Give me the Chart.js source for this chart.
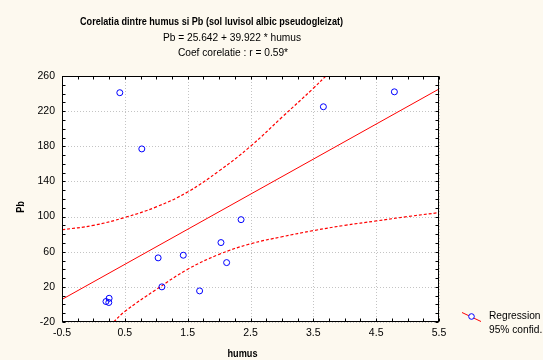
<!DOCTYPE html>
<html>
<head>
<meta charset="utf-8">
<script src="https://cdn.jsdelivr.net/npm/chart.js@4/dist/chart.umd.min.js"></script>
<style>
html,body{margin:0;padding:0;background:#fdf9ef;}
#c{display:block;}
</style>
</head>
<body>
<canvas id="c" width="543" height="360"></canvas>
<script>
// ---- data ----
const humus = [0.42, 0.77, 3.66, 4.79, 0.20, 0.25, 0.245, 1.03, 1.09, 1.43, 1.69, 2.03, 2.12, 2.35];
const pb    = [241, 177, 225, 242, 3.3, 7, 2.2, 53, 20, 56, 15.4, 70.4, 47.6, 96.5];

const regX = [-0.5, 5.5];
const regY = [5.7, 245.2];

const upperX = [-0.5, 0, 0.5, 1, 1.5, 2, 2.5, 3, 3.5, 3.7];
const upperY = [85, 90, 99, 111, 128, 152, 180, 213, 246, 260];

const lowerX = [0.32, 0.5, 1, 1.5, 2, 2.5, 3, 3.5, 4, 4.5, 5, 5.5];
const lowerY = [-20, -8, 17, 40, 57, 69, 77, 84, 90, 95, 100, 104.5];

const xTicks = [-0.5, 0.5, 1.5, 2.5, 3.5, 4.5, 5.5];
const yTicks = [-20, 20, 60, 100, 140, 180, 220, 260];

const titleText = "Corelatia dintre humus si Pb (sol luvisol albic pseudogleizat)";
const subLines = ["Pb = 25.642 + 39.922 * humus", "Coef corelatie : r = 0.59*"];
const xTitle = "humus";
const yTitle = "Pb";
const legendLabels = ["Regression", "95% confid."];

// ---- drawing ----
const FONT = "'Liberation Sans', Arial, sans-serif";
const pts = (xs, ys) => xs.map((x, i) => ({x: x, y: ys[i]}));

function condensedText(ctx, text, cx, cy, sx) {
  ctx.save();
  ctx.translate(cx, cy);
  ctx.scale(sx, 1);
  ctx.fillText(text, 0, 0);
  ctx.restore();
}

const deco = {
  id: 'deco',
  beforeDraw(chart) {
    const ctx = chart.ctx, a = chart.chartArea;
    ctx.save();
    ctx.fillStyle = '#fdf9ef';
    ctx.fillRect(0, 0, chart.width, chart.height);
    ctx.fillStyle = '#ffffff';
    ctx.fillRect(a.left, a.top, a.right - a.left, a.bottom - a.top);
    ctx.restore();
  },
  beforeDatasetsDraw(chart) {
    const ctx = chart.ctx, a = chart.chartArea;
    const xs = chart.scales.x, ys = chart.scales.y;
    ctx.save();
    ctx.strokeStyle = '#c4c4c4';
    ctx.lineWidth = 1;
    ctx.setLineDash([1, 2]);
    xTicks.forEach(v => {
      const px = Math.round(xs.getPixelForValue(v)) + 0.5;
      ctx.beginPath(); ctx.moveTo(px, a.top); ctx.lineTo(px, a.bottom); ctx.stroke();
    });
    yTicks.forEach(v => {
      const py = Math.round(ys.getPixelForValue(v)) + 0.5;
      ctx.beginPath(); ctx.moveTo(a.left, py); ctx.lineTo(a.right, py); ctx.stroke();
    });
    ctx.restore();
  },
  afterDraw(chart) {
    const ctx = chart.ctx, a = chart.chartArea;
    const xs = chart.scales.x, ys = chart.scales.y;
    ctx.save();
    // frame
    ctx.strokeStyle = '#000';
    ctx.lineWidth = 1;
    ctx.setLineDash([]);
    const L = Math.round(a.left) + 0.5, R = Math.round(a.right) - 0.5;
    const T = Math.round(a.top) + 0.5, B = Math.round(a.bottom) - 0.5;
    ctx.strokeRect(L, T, R - L, B - T);
    // inward minor ticks
    const tl = 3;
    ctx.beginPath();
    for (let v = -0.5; v <= 5.5001; v += 0.25) {
      const px = Math.round(xs.getPixelForValue(v)) + 0.5;
      ctx.moveTo(px, B); ctx.lineTo(px, B - tl);
      ctx.moveTo(px, T); ctx.lineTo(px, T + tl);
    }
    for (let v = -20; v <= 260.001; v += 10) {
      const py = Math.round(ys.getPixelForValue(v)) + 0.5;
      ctx.moveTo(L, py); ctx.lineTo(L + tl, py);
      ctx.moveTo(R, py); ctx.lineTo(R - tl, py);
    }
    ctx.stroke();

    // titles
    ctx.fillStyle = '#000';
    ctx.textAlign = 'center';
    ctx.textBaseline = 'middle';
    ctx.font = 'bold 10.5px ' + FONT;
    const tw = ctx.measureText(titleText).width;
    condensedText(ctx, titleText, 211.5, 22, 263 / tw);
    ctx.font = '10.2px ' + FONT;
    ctx.fillText(subLines[0], 232, 38.5);
    ctx.fillText(subLines[1], 233, 53);

    // axis titles
    ctx.font = 'bold 10.5px ' + FONT;
    condensedText(ctx, xTitle, 242.5, 354, 0.87);
    ctx.save();
    ctx.translate(21.5, 207);
    ctx.rotate(-Math.PI / 2);
    ctx.scale(0.87, 1);
    ctx.fillText(yTitle, 0, 0);
    ctx.restore();

    // legend
    ctx.strokeStyle = '#ff0000';
    ctx.beginPath(); ctx.moveTo(462, 312.5); ctx.lineTo(481, 321.5); ctx.stroke();
    ctx.fillStyle = '#ffffff';
    ctx.strokeStyle = '#0000ff';
    ctx.beginPath(); ctx.arc(471.5, 316.5, 2.8, 0, Math.PI * 2); ctx.fill(); ctx.stroke();
    ctx.fillStyle = '#000';
    ctx.textAlign = 'left';
    ctx.font = '10.2px ' + FONT;
    ctx.fillText(legendLabels[0], 489, 316);
    ctx.fillText(legendLabels[1], 489, 330.5);
    ctx.restore();
  }
};

new Chart(document.getElementById('c'), {
  type: 'scatter',
  data: {
    datasets: [
      { label: 'Regression', data: pts(regX, regY), showLine: true, borderColor: '#ff0000',
        borderWidth: 1, pointRadius: 0, fill: false, order: 2 },
      { label: 'upper', data: pts(upperX, upperY), showLine: true, borderColor: '#ff0000',
        borderWidth: 1.2, borderDash: [3, 2], pointRadius: 0, fill: false,
        tension: 0.4, order: 3 },
      { label: 'lower', data: pts(lowerX, lowerY), showLine: true, borderColor: '#ff0000',
        borderWidth: 1.2, borderDash: [3, 2], pointRadius: 0, fill: false,
        tension: 0.4, order: 3 },
      { label: 'Pb', data: pts(humus, pb), showLine: false, pointRadius: 3,
        pointBorderColor: '#0000ff', pointBackgroundColor: 'rgba(255,255,255,0)',
        pointBorderWidth: 1, order: 1 }
    ]
  },
  options: {
    responsive: false,
    animation: false,
    devicePixelRatio: 1,
    layout: { padding: { left: 0, top: 76, right: 104, bottom: 0 } },
    plugins: { legend: { display: false }, title: { display: false }, tooltip: { enabled: false } },
    scales: {
      x: {
        type: 'linear', min: -0.5, max: 5.5,
        grid: { display: false, drawTicks: false, tickLength: 0 },
        border: { display: false },
        afterBuildTicks: s => { s.ticks = xTicks.map(v => ({ value: v })); },
        afterFit: s => { s.height = 38; },
        ticks: { autoSkip: false, maxRotation: 0, padding: 5, color: '#000',
                 font: { family: FONT, size: 10.5 },
                 callback: v => String(v) }
      },
      y: {
        type: 'linear', min: -20, max: 260,
        grid: { display: false, drawTicks: false, tickLength: 0 },
        border: { display: false },
        afterBuildTicks: s => { s.ticks = yTicks.map(v => ({ value: v })); },
        afterFit: s => { s.width = 62; },
        ticks: { autoSkip: false, padding: 7, color: '#000',
                 font: { family: FONT, size: 10.5 },
                 callback: v => String(v) }
      }
    }
  },
  plugins: [deco]
});
</script>
</body>
</html>
